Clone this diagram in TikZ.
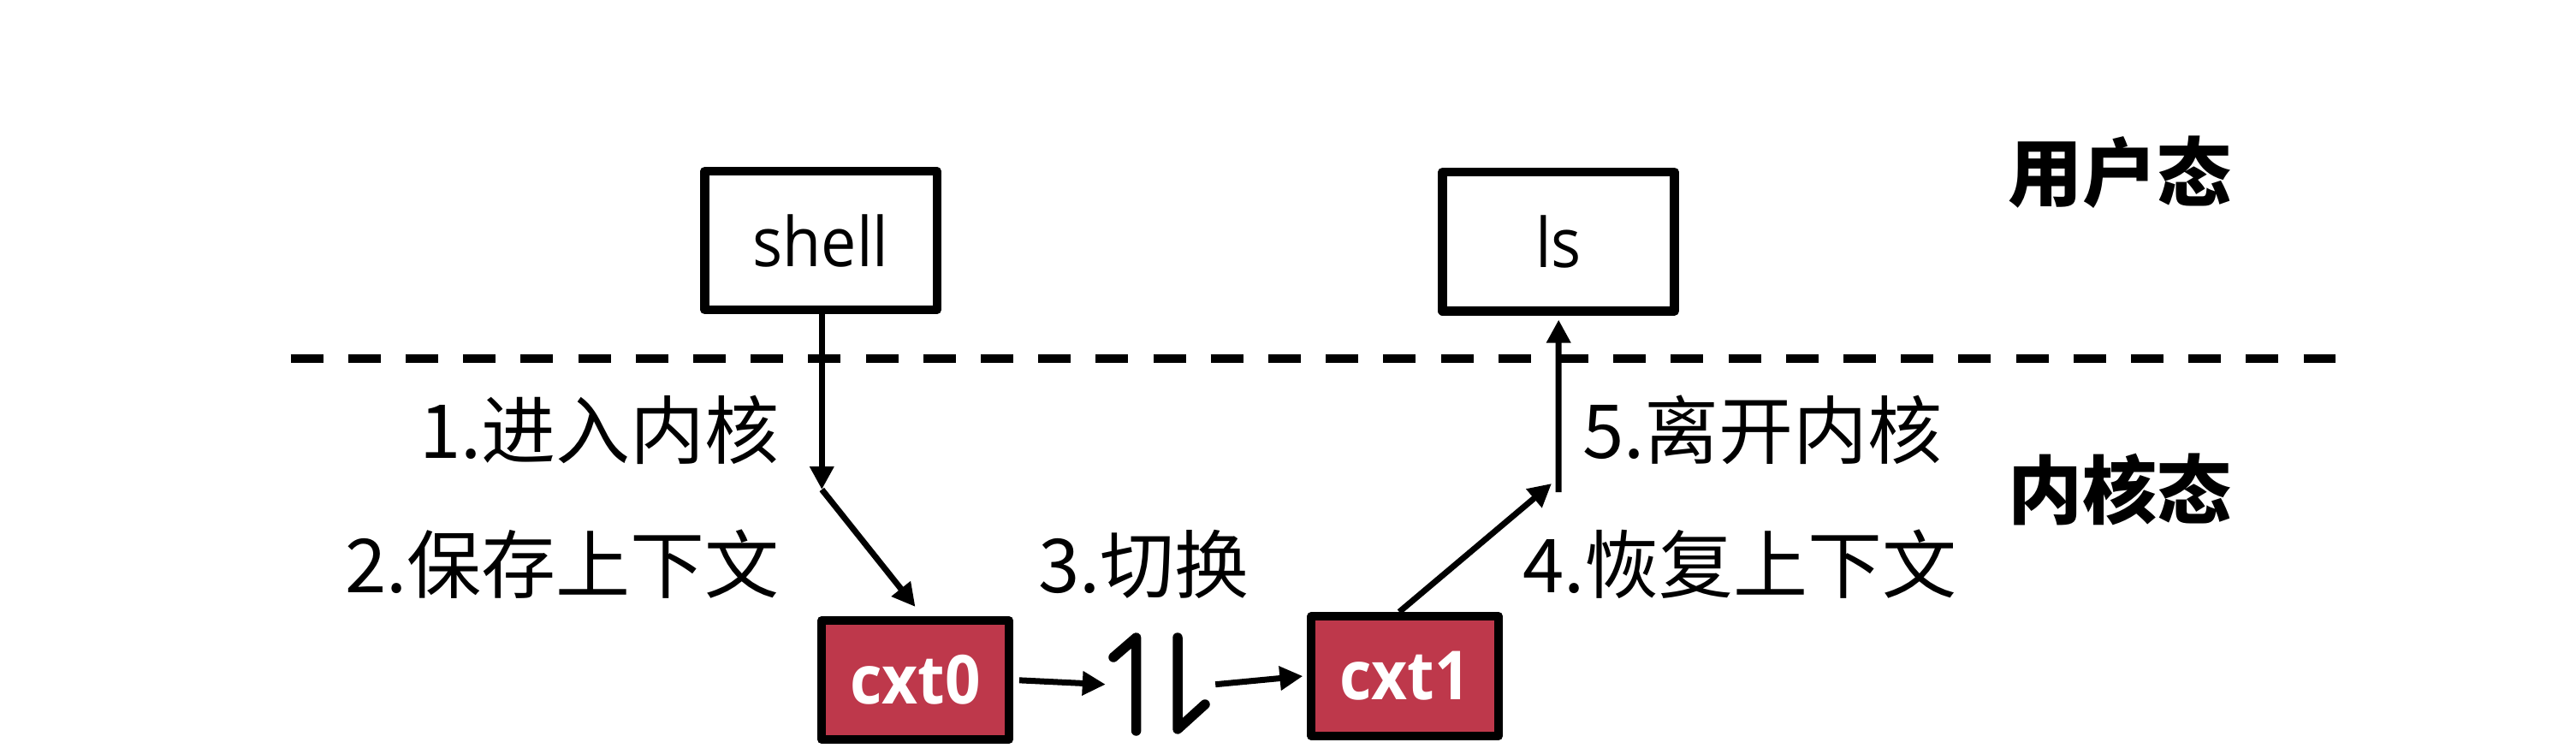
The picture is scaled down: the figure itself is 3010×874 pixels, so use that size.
\documentclass[tikz,border=0pt]{standalone}
\usepackage{fontspec}
\setmainfont{Open Sans}[FakeStretch=0.92]
\newfontfamily\cjk{Noto Sans CJK SC}
\usetikzlibrary{arrows.meta}
\definecolor{ctxred}{RGB}{190,56,75}
\begin{document}
\begin{tikzpicture}[x=1pt,y=-1pt,
  box/.style={draw=black,line width=10.5pt,line join=round,fill=white,minimum width=271pt,minimum height=162pt,inner sep=0pt,font=\fontsize{80}{96}\selectfont},
  ctx/.style={draw=black,line width=10pt,line join=round,fill=ctxred,minimum height=140pt,inner sep=0pt,text=white,font=\bfseries\fontsize{79}{94}\selectfont},
  lbl/.style={inner sep=0pt,font=\cjk\fontsize{87}{100}\selectfont},
  statelbl/.style={inner sep=0pt,font=\cjk\bfseries\fontsize{87}{100}\selectfont},
  arr/.style={line width=7pt,-{Triangle[length=27pt,width=27pt]}},
  swapline/.style={line width=11.5pt,line cap=round,line join=round},
  sepline/.style={line width=10pt,dash pattern=on 38pt off 29.2pt}]
\fill[white] (0,0) rectangle (3010,874);
\useasboundingbox (0,0) rectangle (3010,874);
% separator
\coordinate (dl) at (339.5,418.7);
\coordinate (dr) at (2729,418.7);
\draw[sepline] (dl) -- (dr);
% boxes
\node[box,minimum width=271.5pt,minimum height=161.8pt] (shell) at (959,281.1) {shell};
\node[box,minimum width=271pt,minimum height=162.3pt] (ls) at (1821.2,282.2) {ls};
\node[ctx,minimum width=219pt,minimum height=139pt] (cxt0) at (1069.5,794.5) {cxt0};
\node[ctx,minimum width=218.7pt] (cxt1) at (1641.7,790) {cxt1};
% labels
\node[lbl,anchor=base east] (l1) at (911,535) {1.进入内核};
\node[lbl,anchor=base east] (l2) at (911,692) {2.保存上下文};
\node[lbl,anchor=base west] (l3) at (1213,692) {3.切换};
\node[lbl,anchor=base west] (l4) at (1779,692) {4.恢复上下文};
\node[lbl,anchor=base west] (l5) at (1849,535) {5.离开内核};
\node[statelbl] (us) at (2477,201) {用户态};
\node[statelbl] (ks) at (2477,572) {内核态};
% swap symbol
\node[minimum width=128pt,minimum height=121pt,inner sep=0pt] (swap) at (1356,799.7) {};
\draw[swapline] (1301,768) -- (1327.6,745) -- (1327.6,854);
\draw[swapline] (1376,745) -- (1376,852) -- (1408,823);
% connectors
\coordinate (k1) at (960.3,572);
\coordinate (k2) at (1813,565);
\coordinate (k3) at (1821,575);
\draw[arr] ([xshift=1.3pt]shell.south) -- (k1);
\draw[arr] (k1) -- ([yshift=11pt]cxt0.north);
\draw[arr,shorten <=7pt] (cxt0.east) -- (swap.west);
\draw[arr] (swap.east) -- ([xshift=-5pt]cxt1.west);
\draw[arr] ([xshift=-6.7pt]cxt1.north) -- (k2);
\draw[arr] (k3) -- ([yshift=-5pt]ls.south);
\end{tikzpicture}
\end{document}
